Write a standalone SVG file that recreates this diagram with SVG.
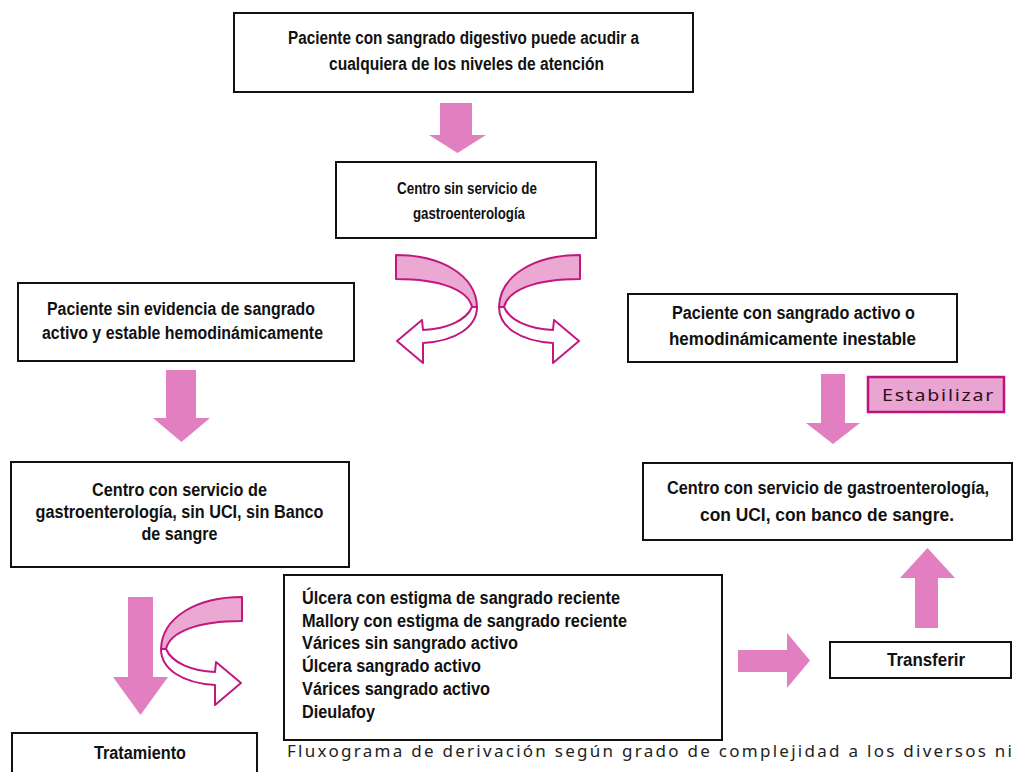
<svg xmlns="http://www.w3.org/2000/svg" xmlns:xlink="http://www.w3.org/1999/xlink" width="1016" height="772" viewBox="0 0 1016 772">
<style>
.box{fill:#fff;stroke:#111;stroke-width:2}
.t{font-family:"Liberation Sans Narrow","Liberation Sans",Arial,sans-serif;font-weight:bold;font-size:17.5px;fill:#111;text-anchor:middle}
.ts{font-size:17px}
.tl{text-anchor:start;font-size:18px}
.arr{fill:#e27fc1}
.band{fill:#eaa8d3;stroke:#c2187e;stroke-width:2;stroke-linejoin:round}
.wht{fill:#fff;stroke:#c2187e;stroke-width:2;stroke-linejoin:round}
.est{fill:#eaa4d2;stroke:#c0127c;stroke-width:2.5}
.estt{font-family:"Noto Sans","Liberation Sans",sans-serif;font-size:17px;fill:#2a1020;letter-spacing:1.5px}
.cap{font-family:"Noto Sans","Liberation Sans",sans-serif;font-size:17px;fill:#222}
</style>
<defs>
<g id="curl">
<path class="band" d="M0,0 C-45,0 -80,20 -81,52 L-76,52 C-72,35 -45,24 0,24 Z"/>
<path class="wht" d="M-81,52 C-81,72 -60,86 -27,88 L-27,108 L-1,86 L-26,65 L-27,75 C-50,74 -70,66 -76,52 Z"/>
</g>
</defs>
<rect width="1016" height="772" fill="#fff"/>
<g id="connectors">
<path class="arr" d="M440,103 H472 V135 H486 L457.5,153 L429,135 H440 Z"/>
<path class="arr" d="M166,370 H196 V418 H210 L181.5,442 L153,418 H166 Z"/>
<path class="arr" d="M821,374 H845 V423 H860 L833,444 L806,423 H821 Z"/>
<path class="arr" d="M128,597 H153 V677 H168 L140.5,715 L113,677 H128 Z"/>
<path class="arr" d="M738,650 H787 V633 L810,660.5 L787,688 V672 H738 Z"/>
<path class="arr" d="M915,628 V578 H900 L927.5,548 L955,578 H938 V628 Z"/>
<use xlink:href="#curl" transform="translate(396,255) scale(-1,1)"/>
<use xlink:href="#curl" transform="translate(580,255)"/>
<use xlink:href="#curl" transform="translate(242,597)"/>
</g>
<g id="n1">
<rect class="box" x="234" y="13" width="459" height="79"/>
<text class="t" x="463.5" y="43.5" textLength="351" lengthAdjust="spacingAndGlyphs">Paciente con sangrado digestivo puede acudir a</text>
<text class="t" x="466.5" y="69.5" textLength="275" lengthAdjust="spacingAndGlyphs">cualquiera de los niveles de atención</text>
</g>
<g id="n2">
<rect class="box" x="336" y="162" width="260" height="76"/>
<text class="t ts" x="467" y="194" textLength="140" lengthAdjust="spacingAndGlyphs">Centro sin servicio de</text>
<text class="t ts" x="469" y="219" textLength="112" lengthAdjust="spacingAndGlyphs">gastroenterología</text>
</g>
<g id="n3">
<rect class="box" x="18" y="283" width="336" height="78"/>
<text class="t" x="181" y="314.5" textLength="268" lengthAdjust="spacingAndGlyphs">Paciente sin evidencia de sangrado</text>
<text class="t" x="182.5" y="338.5" textLength="281" lengthAdjust="spacingAndGlyphs">activo y estable hemodinámicamente</text>
</g>
<g id="n4">
<rect class="box" x="628" y="294" width="329" height="68"/>
<text class="t" x="793.5" y="319" textLength="243" lengthAdjust="spacingAndGlyphs">Paciente con sangrado activo o</text>
<text class="t" x="792.5" y="345" textLength="247" lengthAdjust="spacingAndGlyphs">hemodinámicamente inestable</text>
</g>
<g id="n5">
<rect class="est" x="868" y="377" width="136" height="35"/>
<text class="estt" x="882" y="401" textLength="113" lengthAdjust="spacingAndGlyphs">Estabilizar</text>
</g>
<g id="n6">
<rect class="box" x="643" y="463" width="369" height="77"/>
<text class="t" x="828" y="493.5" textLength="322" lengthAdjust="spacingAndGlyphs">Centro con servicio de gastroenterología,</text>
<text class="t" x="827" y="520.5" textLength="254" lengthAdjust="spacingAndGlyphs">con UCI, con banco de sangre.</text>
</g>
<g id="n7">
<rect class="box" x="11" y="462" width="338" height="105"/>
<text class="t" x="179.5" y="496" textLength="175" lengthAdjust="spacingAndGlyphs">Centro con servicio de</text>
<text class="t" x="179.5" y="518" textLength="288" lengthAdjust="spacingAndGlyphs">gastroenterología, sin UCI, sin Banco</text>
<text class="t" x="179.5" y="540" textLength="76" lengthAdjust="spacingAndGlyphs">de sangre</text>
</g>
<g id="n8">
<rect class="box" x="284" y="575" width="438" height="165"/>
<text class="t tl" x="302" y="604" textLength="318" lengthAdjust="spacingAndGlyphs">Úlcera con estigma de sangrado reciente</text>
<text class="t tl" x="302" y="627" textLength="325" lengthAdjust="spacingAndGlyphs">Mallory con estigma de sangrado reciente</text>
<text class="t tl" x="302" y="649" textLength="216" lengthAdjust="spacingAndGlyphs">Várices sin sangrado activo</text>
<text class="t tl" x="302" y="672" textLength="179" lengthAdjust="spacingAndGlyphs">Úlcera sangrado activo</text>
<text class="t tl" x="302" y="695" textLength="188" lengthAdjust="spacingAndGlyphs">Várices sangrado activo</text>
<text class="t tl" x="302" y="718" textLength="73" lengthAdjust="spacingAndGlyphs">Dieulafoy</text>
</g>
<g id="n9">
<rect class="box" x="830" y="642" width="181" height="36"/>
<text class="t" x="926" y="666" textLength="78" lengthAdjust="spacingAndGlyphs">Transferir</text>
</g>
<g id="n10">
<rect class="box" x="12" y="733" width="245" height="50"/>
<text class="t" x="140" y="759" textLength="92" lengthAdjust="spacingAndGlyphs">Tratamiento</text>
</g>
<text class="cap" x="287" y="757" textLength="725" lengthAdjust="spacing">Fluxograma de derivación según grado de complejidad a los diversos ni</text>
</svg>
